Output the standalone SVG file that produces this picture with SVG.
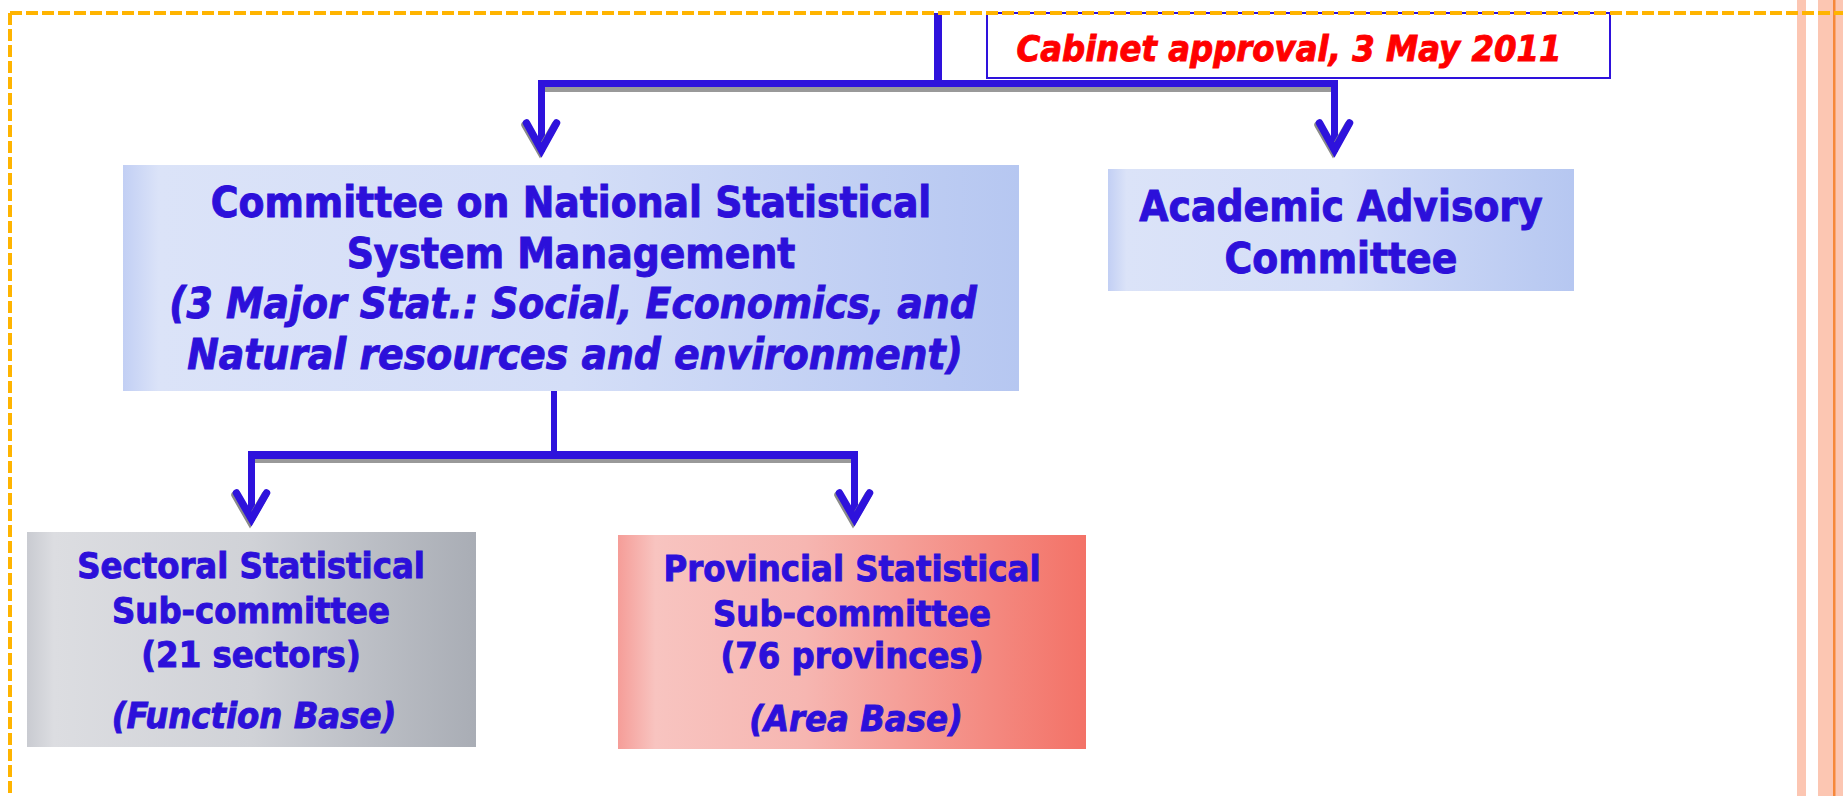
<svg xmlns="http://www.w3.org/2000/svg" width="1843" height="796" viewBox="0 0 1843 796">
<defs>
<linearGradient id="gBlue" x1="0" y1="0" x2="1" y2="0">
<stop offset="0" stop-color="#c2cff4"/>
<stop offset="0.04" stop-color="#dbe3f8"/>
<stop offset="0.5" stop-color="#d4def7"/>
<stop offset="1" stop-color="#b6c7f1"/>
</linearGradient>
<linearGradient id="gGray" x1="0" y1="0" x2="1" y2="0">
<stop offset="0" stop-color="#c9cbd1"/>
<stop offset="0.06" stop-color="#dcdde1"/>
<stop offset="0.5" stop-color="#d0d2d7"/>
<stop offset="1" stop-color="#a9adb5"/>
</linearGradient>
<linearGradient id="gRed" x1="0" y1="0" x2="1" y2="0">
<stop offset="0" stop-color="#f59d98"/>
<stop offset="0.08" stop-color="#f8c4c0"/>
<stop offset="0.4" stop-color="#f6b6b1"/>
<stop offset="1" stop-color="#f37267"/>
</linearGradient>
<style>
.box text{font-family:"DejaVu Sans Condensed","DejaVu Sans",sans-serif;font-weight:bold;fill:#2c10da;stroke:#2c10da;stroke-width:0.9;text-anchor:middle;font-stretch:condensed}
.it{font-style:italic}
.ln{fill:#2e12dc}
.shd{fill:#999999}
.ah{fill:none;stroke:#2e12dc;stroke-width:7.5;stroke-linecap:round;stroke-linejoin:miter}
.ahs{fill:none;stroke:#8a8a8a;stroke-width:7.5;stroke-linecap:round}
</style>
</defs>
<rect x="0" y="0" width="1843" height="796" fill="#ffffff"/>
<g id="stripes">
<rect x="1797" y="0" width="9" height="796" fill="#fcc6b2"/>
<rect x="1818" y="0" width="25" height="796" fill="#fcc6b2"/>
<rect x="1833" y="0" width="2.5" height="796" fill="#f6883a"/>
</g>
<g id="cabinet" class="box">
<rect x="987" y="13" width="623" height="65" fill="#ffffff" stroke="#2e12dc" stroke-width="2"/>
<text x="1289" y="61" class="it" style="fill:#ff0000;stroke:#ff0000;font-size:36px">Cabinet approval, 3 May 2011</text>
</g>
<g id="connectors">
<rect x="934" y="13" width="8" height="67" class="ln"/>
<rect x="538" y="87" width="800" height="5" class="shd"/>
<rect x="538" y="80" width="800" height="7" class="ln"/>
<rect x="538" y="80" width="7" height="72" class="ln"/>
<rect x="1331" y="80" width="7" height="72" class="ln"/>
<path d="M525,125 L540,151 L555,125" class="ahs"/>
<path d="M526.5,123 L541.5,150 L556.5,123" class="ah"/>
<path d="M1318,125 L1333,151 L1348,125" class="ahs"/>
<path d="M1319.5,123 L1334.5,150 L1349.5,123" class="ah"/>
<rect x="551" y="390" width="6" height="61" class="ln"/>
<rect x="248" y="459" width="610" height="4" class="shd"/>
<rect x="248" y="451" width="610" height="8" class="ln"/>
<rect x="248" y="451" width="7" height="70" class="ln"/>
<rect x="851" y="451" width="7" height="70" class="ln"/>
<path d="M235,495 L250,521 L265,495" class="ahs"/>
<path d="M236.5,493 L251.5,519 L266.5,493" class="ah"/>
<path d="M838,495 L853,521 L868,495" class="ahs"/>
<path d="M839.5,493 L854.5,519 L869.5,493" class="ah"/>
</g>
<g id="main" class="box">
<rect x="123" y="165" width="896" height="226" fill="url(#gBlue)"/>
<text x="571" y="217" style="font-size:42px">Committee on National Statistical</text>
<text x="571" y="268" style="font-size:42px">System Management</text>
<text x="573" y="318" class="it" style="font-size:42px">(3 Major Stat.: Social, Economics, and</text>
<text x="575" y="369" class="it" style="font-size:42px">Natural resources and environment)</text>
</g>
<g id="academic" class="box">
<rect x="1108" y="169" width="466" height="122" fill="url(#gBlue)"/>
<text x="1341" y="221" style="font-size:42px">Academic Advisory</text>
<text x="1341" y="273" style="font-size:42px">Committee</text>
</g>
<g id="sectoral" class="box">
<rect x="27" y="532" width="449" height="215" fill="url(#gGray)"/>
<text x="251" y="578" style="font-size:36px">Sectoral Statistical</text>
<text x="251" y="623" style="font-size:36px">Sub-committee</text>
<text x="251" y="667" style="font-size:36px">(21 sectors)</text>
<text x="254" y="728" class="it" style="font-size:36px">(Function Base)</text>
</g>
<g id="provincial" class="box">
<rect x="618" y="535" width="468" height="214" fill="url(#gRed)"/>
<text x="852" y="581" style="font-size:36px">Provincial Statistical</text>
<text x="852" y="626" style="font-size:36px">Sub-committee</text>
<text x="852" y="668" style="font-size:36px">(76 provinces)</text>
<text x="856" y="731" class="it" style="font-size:36px">(Area Base)</text>
</g>
<g id="frame" fill="none" stroke="#ffb400" stroke-width="4" stroke-dasharray="12 4">
<path d="M10,13 H1843"/>
<path d="M10,13 V796"/>
</g>
</svg>
